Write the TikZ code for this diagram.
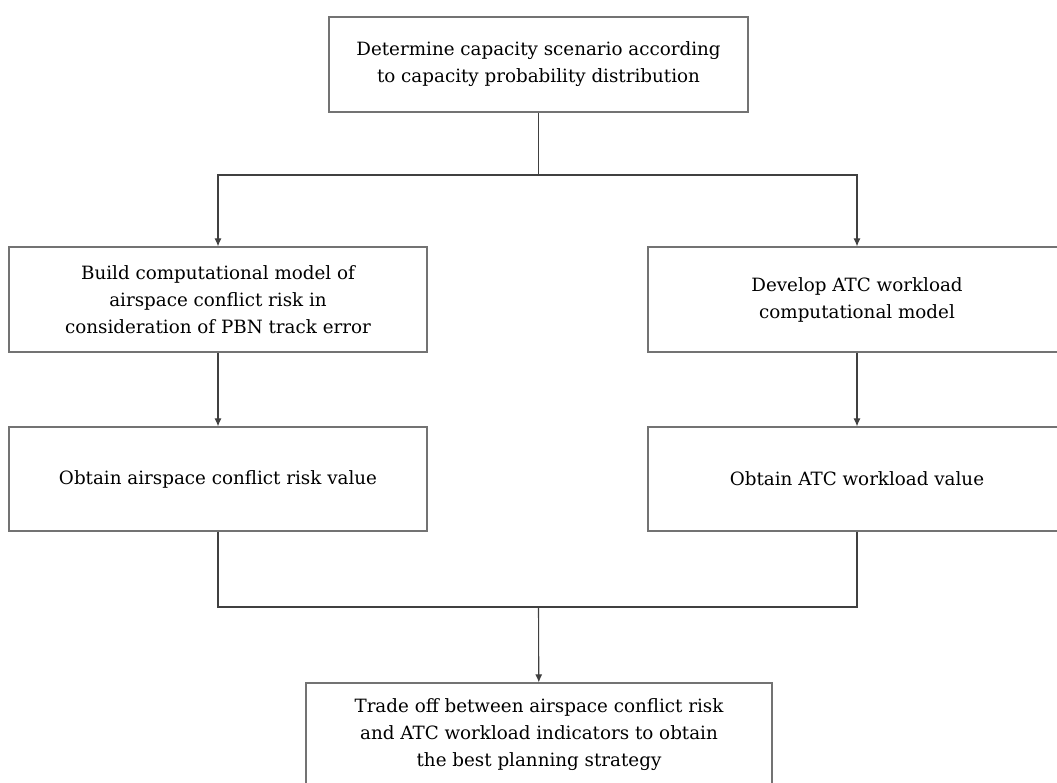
\documentclass[tikz,border=0pt]{standalone}
\usepackage{fontspec}
\setmainfont{DejaVu Serif}
\usetikzlibrary{arrows.meta}
\begin{document}
\begin{tikzpicture}[x=1pt, y=1pt, font=\fontsize{18.3}{27}\selectfont, box/.style={draw=black!55, line width=1.2pt, fill=white, align=center, inner sep=0pt}, line/.style={draw=black!75, line width=1.1pt}, arr/.style={line, -{Latex[length=8pt, width=7pt]}}]
        \useasboundingbox (0, 0) rectangle (1057, -782);
        \clip (0, 0) rectangle (1057, -782);
        \node[box, minimum width=419pt, minimum height=95pt] (capacity) at (538.5, -64.5) {Determine capacity scenario according\\to capacity probability distribution};
        \node[box, minimum width=418pt, minimum height=105pt] (build) at (218, -299.5) {Build computational model of\\airspace conflict risk in\\consideration of PBN track error};
        \node[box, minimum width=418pt, minimum height=105pt] (develop) at (857, -299.5) {Develop ATC workload\\computational model};
        \node[box, minimum width=418pt, minimum height=104pt] (riskval) at (218, -479) {Obtain airspace conflict risk value};
        \node[box, minimum width=418pt, minimum height=104pt] (workval) at (857, -479) {Obtain ATC workload value};
        \node[box, minimum width=466pt, minimum height=104pt] (tradeoff) at (539, -735) {Trade off between airspace conflict risk\\and ATC workload indicators to obtain\\the best planning strategy};
        \coordinate (split) at (538.5, -175);
        \coordinate (merge) at (538.5, -607);

        \draw[line] (capacity) -- (split);
        \draw[arr] (split) -| (build);
        \draw[arr] (split) -| (develop);

        \draw[arr] (build) -- (riskval);
        \draw[arr] (develop) -- (workval);

        \draw[line] (riskval) |- (merge);
        \draw[line] (workval) |- (merge);
        \draw[arr] (merge) -- (tradeoff);
    \end{tikzpicture}
\end{document}
